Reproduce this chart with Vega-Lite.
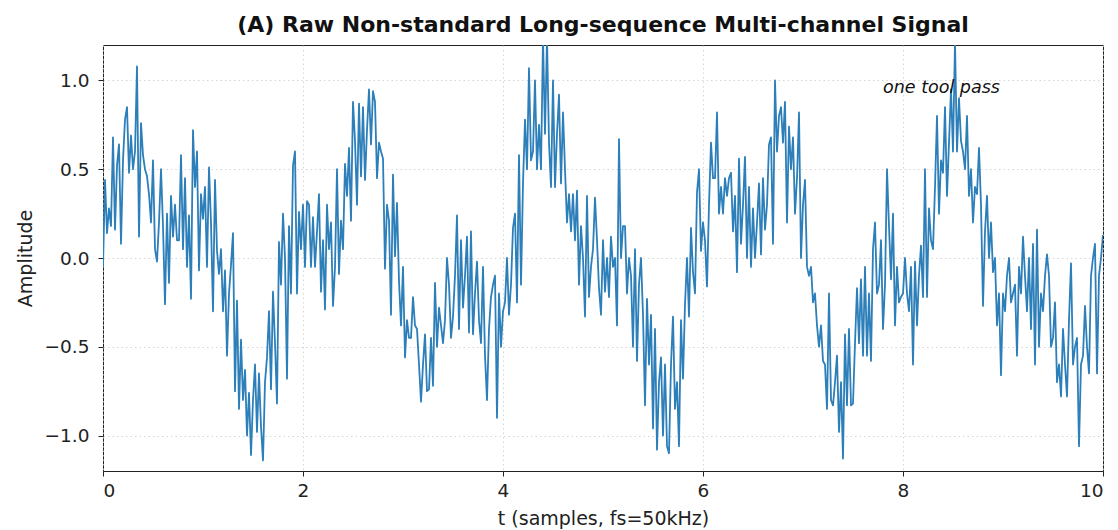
{
  "$schema": "https://vega.github.io/schema/vega-lite/v6.json",
  "width": 1000,
  "height": 426,
  "autosize": {"type": "none"},
  "padding": {"left": 103, "top": 45, "right": 15, "bottom": 59},
  "background": "white",
  "config": {
    "font": "DejaVu Sans",
    "view": {"stroke": "#222", "strokeWidth": 1},
    "axis": {"labelFont": "DejaVu Sans", "titleFont": "DejaVu Sans", "labelFontSize": 18.5, "titleFontSize": 19, "labelColor": "#222", "titleColor": "#222", "titleFontWeight": "normal", "tickColor": "#222", "tickSize": 5, "domain": false, "gridColor": "#cccccc", "gridDash": [1.5, 3], "gridWidth": 0.8}
  },
  "title": {"text": "(A) Raw Non-standard Long-sequence Multi-channel Signal", "font": "DejaVu Sans", "fontSize": 22, "fontWeight": "bold", "color": "#111", "offset": 8},
  "data": {"values": [
{"t":0.00,"y":-0.05},{"t":0.02,"y":0.44},{"t":0.04,"y":0.14},{"t":0.06,"y":0.28},{"t":0.08,"y":0.18},{"t":0.10,"y":0.68},{"t":0.12,"y":0.16},{"t":0.14,"y":0.52},{"t":0.16,"y":0.64},{"t":0.18,"y":0.08},{"t":0.20,"y":0.55},{"t":0.22,"y":0.78},{"t":0.24,"y":0.85},{"t":0.26,"y":0.48},{"t":0.28,"y":0.69},{"t":0.30,"y":0.5},{"t":0.32,"y":0.6},{"t":0.34,"y":1.08},{"t":0.36,"y":0.12},{"t":0.38,"y":0.76},{"t":0.40,"y":0.58},{"t":0.42,"y":0.5},{"t":0.44,"y":0.46},{"t":0.46,"y":0.36},{"t":0.48,"y":0.2},{"t":0.50,"y":0.55},{"t":0.52,"y":0.05},{"t":0.54,"y":-0.02},{"t":0.56,"y":0.2},{"t":0.58,"y":0.5},{"t":0.60,"y":0.18},{"t":0.62,"y":-0.26},{"t":0.64,"y":0.25},{"t":0.66,"y":-0.14},{"t":0.68,"y":0.35},{"t":0.70,"y":0.12},{"t":0.72,"y":0.3},{"t":0.74,"y":0.1},{"t":0.76,"y":0.1},{"t":0.78,"y":0.58},{"t":0.80,"y":0.05},{"t":0.82,"y":0.45},{"t":0.84,"y":-0.05},{"t":0.86,"y":0.24},{"t":0.88,"y":-0.23},{"t":0.90,"y":0.72},{"t":0.92,"y":0.4},{"t":0.94,"y":0.6},{"t":0.96,"y":-0.07},{"t":0.98,"y":0.36},
{"t":1.00,"y":0.22},{"t":1.02,"y":0.4},{"t":1.04,"y":-0.05},{"t":1.06,"y":0.51},{"t":1.08,"y":0.2},{"t":1.10,"y":-0.3},{"t":1.12,"y":0.44},{"t":1.14,"y":0.04},{"t":1.16,"y":-0.09},{"t":1.18,"y":0.05},{"t":1.20,"y":-0.3},{"t":1.22,"y":-0.07},{"t":1.24,"y":-0.55},{"t":1.26,"y":-0.2},{"t":1.28,"y":-0.04},{"t":1.30,"y":0.14},{"t":1.32,"y":-0.75},{"t":1.34,"y":-0.24},{"t":1.36,"y":-0.85},{"t":1.38,"y":-0.46},{"t":1.40,"y":-0.8},{"t":1.42,"y":-0.63},{"t":1.44,"y":-1.0},{"t":1.46,"y":-0.76},{"t":1.48,"y":-1.11},{"t":1.50,"y":-0.8},{"t":1.52,"y":-0.6},{"t":1.54,"y":-0.98},{"t":1.56,"y":-0.65},{"t":1.58,"y":-0.95},{"t":1.60,"y":-1.14},{"t":1.62,"y":-0.7},{"t":1.64,"y":-0.56},{"t":1.66,"y":-0.3},{"t":1.68,"y":-0.74},{"t":1.70,"y":-0.19},{"t":1.72,"y":-0.48},{"t":1.74,"y":-0.82},{"t":1.76,"y":0.09},{"t":1.78,"y":-0.15},{"t":1.80,"y":0.25},{"t":1.82,"y":0.0},{"t":1.84,"y":-0.68},{"t":1.86,"y":0.18},{"t":1.88,"y":-0.2},{"t":1.90,"y":0.52},{"t":1.92,"y":0.6},{"t":1.94,"y":-0.2},{"t":1.96,"y":0.26},{"t":1.98,"y":0.05},
{"t":2.00,"y":0.3},{"t":2.02,"y":-0.05},{"t":2.04,"y":0.32},{"t":2.06,"y":0.3},{"t":2.08,"y":-0.05},{"t":2.10,"y":0.23},{"t":2.12,"y":-0.05},{"t":2.14,"y":0.15},{"t":2.16,"y":0.36},{"t":2.18,"y":-0.19},{"t":2.20,"y":0.1},{"t":2.22,"y":-0.29},{"t":2.24,"y":0.3},{"t":2.26,"y":0.05},{"t":2.28,"y":0.2},{"t":2.30,"y":-0.27},{"t":2.32,"y":-0.05},{"t":2.34,"y":0.5},{"t":2.36,"y":-0.09},{"t":2.38,"y":0.21},{"t":2.40,"y":0.05},{"t":2.42,"y":0.53},{"t":2.44,"y":0.35},{"t":2.46,"y":0.62},{"t":2.48,"y":0.21},{"t":2.50,"y":0.88},{"t":2.52,"y":0.66},{"t":2.54,"y":0.3},{"t":2.56,"y":0.87},{"t":2.58,"y":0.46},{"t":2.60,"y":0.85},{"t":2.62,"y":0.44},{"t":2.64,"y":0.72},{"t":2.66,"y":0.95},{"t":2.68,"y":0.64},{"t":2.70,"y":0.94},{"t":2.72,"y":0.88},{"t":2.74,"y":0.45},{"t":2.76,"y":0.65},{"t":2.78,"y":0.6},{"t":2.80,"y":0.56},{"t":2.82,"y":-0.06},{"t":2.84,"y":0.3},{"t":2.86,"y":0.21},{"t":2.88,"y":-0.32},{"t":2.90,"y":0.47},{"t":2.92,"y":0.01},{"t":2.94,"y":0.31},{"t":2.96,"y":-0.13},{"t":2.98,"y":-0.38},
{"t":3.00,"y":-0.05},{"t":3.02,"y":-0.56},{"t":3.04,"y":-0.35},{"t":3.06,"y":-0.45},{"t":3.08,"y":-0.45},{"t":3.10,"y":-0.22},{"t":3.12,"y":-0.38},{"t":3.14,"y":-0.4},{"t":3.16,"y":-0.6},{"t":3.18,"y":-0.81},{"t":3.20,"y":-0.6},{"t":3.22,"y":-0.43},{"t":3.24,"y":-0.75},{"t":3.26,"y":-0.74},{"t":3.28,"y":-0.45},{"t":3.30,"y":-0.72},{"t":3.32,"y":-0.14},{"t":3.34,"y":-0.5},{"t":3.36,"y":-0.28},{"t":3.38,"y":-0.38},{"t":3.40,"y":-0.48},{"t":3.42,"y":-0.35},{"t":3.44,"y":0.0},{"t":3.46,"y":-0.15},{"t":3.48,"y":-0.45},{"t":3.50,"y":-0.33},{"t":3.52,"y":-0.1},{"t":3.54,"y":0.24},{"t":3.56,"y":-0.4},{"t":3.58,"y":0.1},{"t":3.60,"y":-0.28},{"t":3.62,"y":-0.1},{"t":3.64,"y":0.12},{"t":3.66,"y":-0.42},{"t":3.68,"y":0.15},{"t":3.70,"y":-0.43},{"t":3.72,"y":-0.2},{"t":3.74,"y":-0.02},{"t":3.76,"y":-0.35},{"t":3.78,"y":-0.48},{"t":3.80,"y":-0.05},{"t":3.82,"y":-0.55},{"t":3.84,"y":-0.8},{"t":3.86,"y":-0.4},{"t":3.88,"y":-0.22},{"t":3.90,"y":-0.15},{"t":3.92,"y":-0.1},{"t":3.94,"y":-0.9},{"t":3.96,"y":-0.2},{"t":3.98,"y":-0.5},
{"t":4.00,"y":-0.3},{"t":4.02,"y":-0.25},{"t":4.04,"y":0.0},{"t":4.06,"y":-0.32},{"t":4.08,"y":-0.15},{"t":4.10,"y":0.17},{"t":4.12,"y":0.25},{"t":4.14,"y":-0.25},{"t":4.16,"y":0.58},{"t":4.18,"y":-0.15},{"t":4.20,"y":0.42},{"t":4.22,"y":0.78},{"t":4.24,"y":0.5},{"t":4.26,"y":1.07},{"t":4.28,"y":0.55},{"t":4.30,"y":0.6},{"t":4.32,"y":1.0},{"t":4.34,"y":0.5},{"t":4.36,"y":0.75},{"t":4.38,"y":0.5},{"t":4.40,"y":1.24},{"t":4.42,"y":0.7},{"t":4.44,"y":1.24},{"t":4.46,"y":0.65},{"t":4.48,"y":0.4},{"t":4.50,"y":1.0},{"t":4.52,"y":0.4},{"t":4.54,"y":0.7},{"t":4.56,"y":0.92},{"t":4.58,"y":0.42},{"t":4.60,"y":0.82},{"t":4.62,"y":0.5},{"t":4.64,"y":0.2},{"t":4.66,"y":0.36},{"t":4.68,"y":0.15},{"t":4.70,"y":0.36},{"t":4.72,"y":0.1},{"t":4.74,"y":0.38},{"t":4.76,"y":-0.15},{"t":4.78,"y":0.18},{"t":4.80,"y":0.0},{"t":4.82,"y":-0.33},{"t":4.84,"y":0.35},{"t":4.86,"y":-0.22},{"t":4.88,"y":-0.05},{"t":4.90,"y":0.05},{"t":4.92,"y":0.34},{"t":4.94,"y":0.1},{"t":4.96,"y":-0.17},{"t":4.98,"y":-0.32},
{"t":5.00,"y":0.1},{"t":5.02,"y":-0.19},{"t":5.04,"y":0.0},{"t":5.06,"y":-0.22},{"t":5.08,"y":0.12},{"t":5.10,"y":-0.05},{"t":5.12,"y":0.0},{"t":5.14,"y":-0.38},{"t":5.16,"y":0.67},{"t":5.18,"y":0.0},{"t":5.20,"y":0.18},{"t":5.22,"y":0.18},{"t":5.24,"y":-0.2},{"t":5.26,"y":0.0},{"t":5.28,"y":-0.1},{"t":5.30,"y":-0.5},{"t":5.32,"y":0.05},{"t":5.34,"y":-0.58},{"t":5.36,"y":-0.15},{"t":5.38,"y":0.0},{"t":5.40,"y":-0.32},{"t":5.42,"y":-0.83},{"t":5.44,"y":-0.23},{"t":5.46,"y":-0.6},{"t":5.48,"y":-0.32},{"t":5.50,"y":-0.96},{"t":5.52,"y":-0.4},{"t":5.54,"y":-1.08},{"t":5.56,"y":-0.7},{"t":5.58,"y":-0.56},{"t":5.60,"y":-1.0},{"t":5.62,"y":-0.6},{"t":5.64,"y":-1.06},{"t":5.66,"y":-1.1},{"t":5.68,"y":-0.6},{"t":5.70,"y":-0.33},{"t":5.72,"y":-0.85},{"t":5.74,"y":-0.7},{"t":5.76,"y":-1.06},{"t":5.78,"y":-0.35},{"t":5.80,"y":-0.68},{"t":5.82,"y":-0.26},{"t":5.84,"y":0.0},{"t":5.86,"y":-0.33},{"t":5.88,"y":0.17},{"t":5.90,"y":-0.08},{"t":5.92,"y":-0.2},{"t":5.94,"y":0.37},{"t":5.96,"y":0.5},{"t":5.98,"y":0.04},
{"t":6.00,"y":0.2},{"t":6.02,"y":0.1},{"t":6.04,"y":-0.16},{"t":6.06,"y":0.3},{"t":6.08,"y":0.65},{"t":6.10,"y":0.45},{"t":6.12,"y":0.45},{"t":6.14,"y":0.82},{"t":6.16,"y":0.25},{"t":6.18,"y":0.4},{"t":6.20,"y":0.25},{"t":6.22,"y":0.45},{"t":6.24,"y":0.35},{"t":6.26,"y":0.45},{"t":6.28,"y":0.48},{"t":6.30,"y":0.15},{"t":6.32,"y":0.35},{"t":6.34,"y":-0.08},{"t":6.36,"y":0.56},{"t":6.38,"y":0.08},{"t":6.40,"y":0.3},{"t":6.42,"y":0.57},{"t":6.44,"y":0.0},{"t":6.46,"y":0.4},{"t":6.48,"y":-0.05},{"t":6.50,"y":0.28},{"t":6.52,"y":0.0},{"t":6.54,"y":0.2},{"t":6.56,"y":0.42},{"t":6.58,"y":0.02},{"t":6.60,"y":0.45},{"t":6.62,"y":0.16},{"t":6.64,"y":0.3},{"t":6.66,"y":0.64},{"t":6.68,"y":0.68},{"t":6.70,"y":0.08},{"t":6.72,"y":1.0},{"t":6.74,"y":0.6},{"t":6.76,"y":0.8},{"t":6.78,"y":0.85},{"t":6.80,"y":0.65},{"t":6.82,"y":0.88},{"t":6.84,"y":0.2},{"t":6.86,"y":0.74},{"t":6.88,"y":0.5},{"t":6.90,"y":0.68},{"t":6.92,"y":0.25},{"t":6.94,"y":0.45},{"t":6.96,"y":0.82},{"t":6.98,"y":0.0},
{"t":7.00,"y":0.3},{"t":7.02,"y":0.44},{"t":7.04,"y":-0.05},{"t":7.06,"y":-0.1},{"t":7.08,"y":-0.05},{"t":7.10,"y":-0.25},{"t":7.12,"y":-0.2},{"t":7.14,"y":-0.38},{"t":7.16,"y":-0.5},{"t":7.18,"y":-0.38},{"t":7.20,"y":-0.58},{"t":7.22,"y":-0.6},{"t":7.24,"y":-0.85},{"t":7.26,"y":-0.2},{"t":7.28,"y":-0.8},{"t":7.30,"y":-0.83},{"t":7.32,"y":-0.7},{"t":7.34,"y":-0.55},{"t":7.36,"y":-0.98},{"t":7.38,"y":-0.7},{"t":7.40,"y":-1.13},{"t":7.42,"y":-0.43},{"t":7.44,"y":-0.83},{"t":7.46,"y":-0.4},{"t":7.48,"y":-0.83},{"t":7.50,"y":-0.82},{"t":7.52,"y":-0.48},{"t":7.54,"y":-0.17},{"t":7.56,"y":-0.48},{"t":7.58,"y":-0.12},{"t":7.60,"y":-0.55},{"t":7.62,"y":-0.05},{"t":7.64,"y":-0.55},{"t":7.66,"y":-0.2},{"t":7.68,"y":-0.58},{"t":7.70,"y":0.05},{"t":7.72,"y":0.2},{"t":7.74,"y":-0.2},{"t":7.76,"y":-0.15},{"t":7.78,"y":0.1},{"t":7.80,"y":-0.4},{"t":7.82,"y":-0.15},{"t":7.84,"y":0.5},{"t":7.86,"y":0.18},{"t":7.88,"y":-0.12},{"t":7.90,"y":0.25},{"t":7.92,"y":-0.38},{"t":7.94,"y":-0.05},{"t":7.96,"y":-0.25},{"t":7.98,"y":-0.22},
{"t":8.00,"y":-0.2},{"t":8.02,"y":0.0},{"t":8.04,"y":-0.2},{"t":8.06,"y":-0.3},{"t":8.08,"y":-0.05},{"t":8.10,"y":-0.6},{"t":8.12,"y":-0.02},{"t":8.14,"y":-0.38},{"t":8.16,"y":-0.1},{"t":8.18,"y":0.07},{"t":8.20,"y":-0.22},{"t":8.22,"y":0.5},{"t":8.24,"y":-0.22},{"t":8.26,"y":0.28},{"t":8.28,"y":0.1},{"t":8.30,"y":0.05},{"t":8.32,"y":0.4},{"t":8.34,"y":0.8},{"t":8.36,"y":0.25},{"t":8.38,"y":0.55},{"t":8.40,"y":0.48},{"t":8.42,"y":0.85},{"t":8.44,"y":0.35},{"t":8.46,"y":0.65},{"t":8.48,"y":0.95},{"t":8.50,"y":0.6},{"t":8.52,"y":1.22},{"t":8.54,"y":0.6},{"t":8.56,"y":0.9},{"t":8.58,"y":0.66},{"t":8.60,"y":0.6},{"t":8.62,"y":0.5},{"t":8.64,"y":0.8},{"t":8.66,"y":0.35},{"t":8.68,"y":0.5},{"t":8.70,"y":0.2},{"t":8.72,"y":0.4},{"t":8.74,"y":0.36},{"t":8.76,"y":0.62},{"t":8.78,"y":0.3},{"t":8.80,"y":-0.27},{"t":8.82,"y":0.15},{"t":8.84,"y":0.35},{"t":8.86,"y":0.0},{"t":8.88,"y":0.2},{"t":8.90,"y":-0.08},{"t":8.92,"y":0.0},{"t":8.94,"y":-0.38},{"t":8.96,"y":-0.2},{"t":8.98,"y":-0.66},
{"t":9.00,"y":-0.2},{"t":9.02,"y":-0.3},{"t":9.04,"y":-0.1},{"t":9.06,"y":0.0},{"t":9.08,"y":-0.25},{"t":9.10,"y":-0.2},{"t":9.12,"y":-0.15},{"t":9.14,"y":-0.55},{"t":9.16,"y":-0.05},{"t":9.18,"y":-0.2},{"t":9.20,"y":0.12},{"t":9.22,"y":-0.1},{"t":9.24,"y":-0.3},{"t":9.26,"y":0.0},{"t":9.28,"y":-0.4},{"t":9.30,"y":0.08},{"t":9.32,"y":-0.6},{"t":9.34,"y":0.16},{"t":9.36,"y":-0.5},{"t":9.38,"y":-0.2},{"t":9.40,"y":-0.3},{"t":9.42,"y":-0.1},{"t":9.44,"y":0.02},{"t":9.46,"y":-0.1},{"t":9.48,"y":-0.5},{"t":9.50,"y":-0.45},{"t":9.52,"y":-0.25},{"t":9.54,"y":-0.7},{"t":9.56,"y":-0.6},{"t":9.58,"y":-0.78},{"t":9.60,"y":-0.4},{"t":9.62,"y":-0.6},{"t":9.64,"y":-0.78},{"t":9.66,"y":-0.35},{"t":9.68,"y":-0.03},{"t":9.70,"y":-0.6},{"t":9.72,"y":-0.5},{"t":9.74,"y":-0.45},{"t":9.76,"y":-1.06},{"t":9.78,"y":-0.6},{"t":9.80,"y":-0.55},{"t":9.82,"y":-0.27},{"t":9.84,"y":-0.5},{"t":9.86,"y":-0.65},{"t":9.88,"y":-0.1},{"t":9.90,"y":0.0},{"t":9.92,"y":0.08},{"t":9.94,"y":-0.65},{"t":9.96,"y":-0.1},{"t":9.98,"y":0.0},{"t":10.00,"y":0.13}
  ]},
  "layer": [
    {
      "mark": {"type": "line", "color": "#2d7fba", "strokeWidth": 1.8, "clip": true, "strokeJoin": "round"},
      "encoding": {
        "x": {"field": "t", "type": "quantitative", "scale": {"domain": [0, 10], "nice": false, "zero": false}, "axis": {"values": [0, 2, 4, 6, 8, 10], "format": "d", "title": "t (samples, fs=50kHz)", "labelPadding": 5, "titlePadding": 10}},
        "y": {"field": "y", "type": "quantitative", "scale": {"domain": [-1.2, 1.2], "nice": false, "zero": false}, "axis": {"values": [-1, -0.5, 0, 0.5, 1], "format": ".1f", "title": "Amplitude", "labelPadding": 9, "titlePadding": 9}}
      }
    },
    {
      "data": {"values": [{"t": 7.8, "y": 0.955, "label": "one tool pass"}]},
      "mark": {"type": "text", "align": "left", "baseline": "middle", "font": "DejaVu Sans", "fontSize": 17.5, "fontStyle": "italic", "color": "#111"},
      "encoding": {"x": {"field": "t", "type": "quantitative"}, "y": {"field": "y", "type": "quantitative"}, "text": {"field": "label"}}
    }
  ]
}
